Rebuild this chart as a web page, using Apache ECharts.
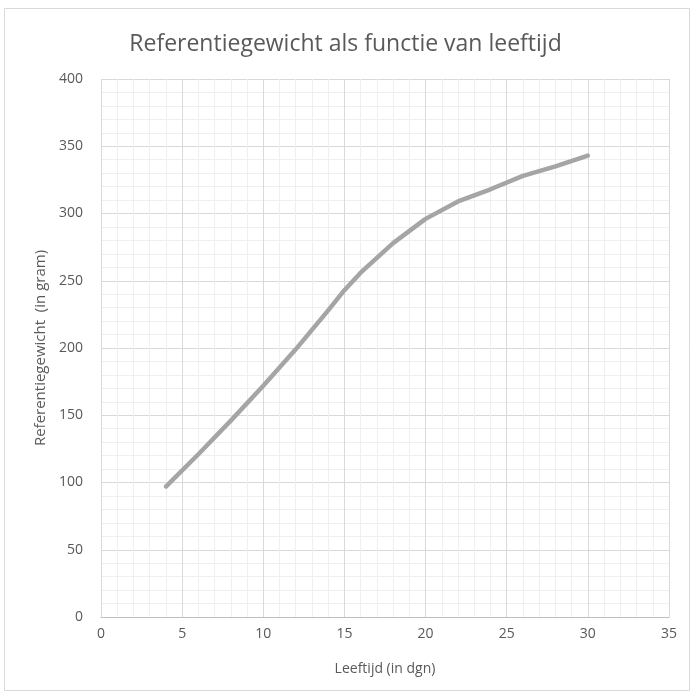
<!DOCTYPE html>
<html>
<head>
<meta charset="utf-8">
<script src="https://cdn.jsdelivr.net/npm/echarts@6/dist/echarts.min.js"></script>
<style>
  html, body { margin: 0; padding: 0; background: #fff; }
  #main { width: 691px; height: 693px; }
</style>
</head>
<body>
<div id="main"></div>
<script>
var myChart = echarts.init(document.getElementById('main'));

// leeftijd in dagen en referentiegewicht in gram
var ages = [4, 6, 8, 10, 12, 14, 15, 16, 18, 20, 22, 24, 26, 28, 30];
var weights = [97, 121, 146, 172, 199, 228, 243, 256, 278, 296, 309, 318, 328, 335, 343];

var points = ages.map(function (a, i) { return [a, weights[i]]; });

var labelColor = '#595959';
var fontFam = '"Open Sans", "Liberation Sans", sans-serif';

var option = {
    backgroundColor: '#fff',
    title: {
        text: 'Referentiegewicht als functie van leeftijd',
        left: 'center',
        top: 28,
        textStyle: {
            color: labelColor,
            fontSize: 23,
            fontWeight: 'normal',
            fontFamily: fontFam
        }
    },
    graphic: [{
        type: 'rect',
        shape: { x: 4.5, y: 8.5, width: 685, height: 682 },
        style: { fill: 'none', stroke: '#d9d9d9', lineWidth: 1 },
        silent: true
    }],
    grid: {
        left: 101,
        right: 22,
        top: 79,
        bottom: 76
    },
    xAxis: {
        type: 'value',
        min: 0,
        max: 35,
        interval: 5,
        name: 'Leeftijd (in dgn)',
        nameLocation: 'middle',
        nameGap: 45,
        nameTextStyle: { color: labelColor, fontSize: 14, fontFamily: fontFam },
        axisLine: { show: true, lineStyle: { color: '#bfbfbf', width: 1 } },
        axisTick: { show: false },
        axisLabel: { color: labelColor, fontSize: 14, margin: 10, fontFamily: fontFam },
        splitLine: { show: true, lineStyle: { color: '#d9d9d9', width: 1 } },
        minorTick: { show: false, splitNumber: 5 },
        minorSplitLine: { show: true, lineStyle: { color: '#efefef', width: 1 } }
    },
    yAxis: {
        type: 'value',
        min: 0,
        max: 400,
        interval: 50,
        name: 'Referentiegewicht  (in gram)',
        nameLocation: 'middle',
        nameGap: 52,
        nameTextStyle: { color: labelColor, fontSize: 15, fontFamily: fontFam },
        axisLine: { show: false },
        axisTick: { show: false },
        axisLabel: { color: labelColor, fontSize: 14, margin: 18, fontFamily: fontFam },
        splitLine: { show: true, lineStyle: { color: '#d9d9d9', width: 1 } },
        minorTick: { show: false, splitNumber: 5 },
        minorSplitLine: { show: true, lineStyle: { color: '#efefef', width: 1 } }
    },
    series: [{
        type: 'line',
        data: points,
        showSymbol: false,
        smooth: false,
        lineStyle: { color: '#a5a5a5', width: 4.5, cap: 'round', join: 'round' },
        itemStyle: { color: '#a5a5a5' }
    }]
};

myChart.setOption(option);
</script>
</body>
</html>
